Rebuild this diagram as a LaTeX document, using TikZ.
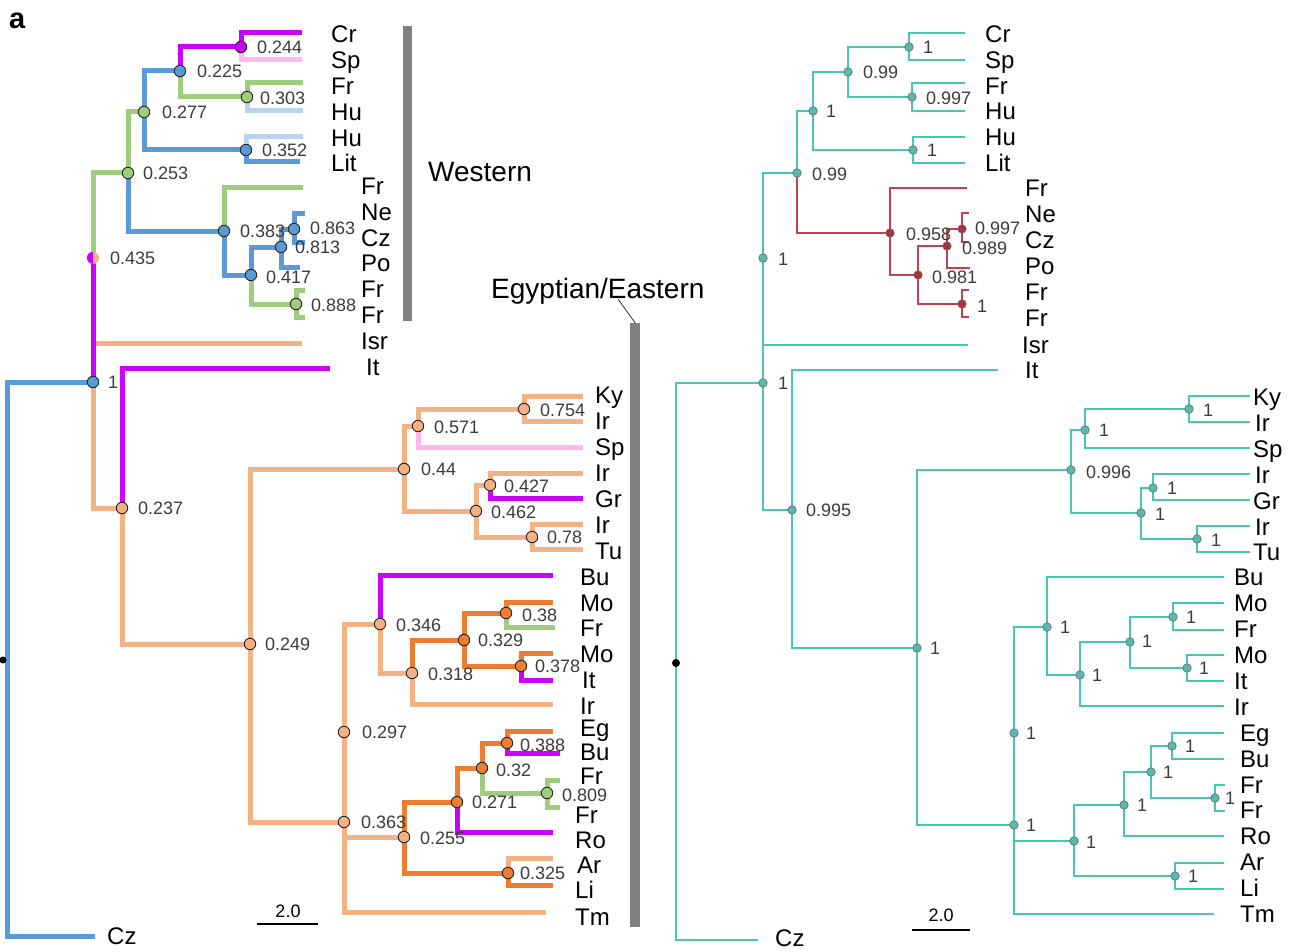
\documentclass[tikz,border=0pt]{standalone}
\usepackage{fontspec}
\setmainfont{Liberation Sans}
\usetikzlibrary{calc}
\definecolor{lblue}{RGB}{91,155,213}
\definecolor{lgreen}{RGB}{160,205,125}
\definecolor{lmag}{RGB}{204,0,255}
\definecolor{lpink}{RGB}{255,184,238}
\definecolor{lsky}{RGB}{185,212,238}
\definecolor{lpeach}{RGB}{244,177,131}
\definecolor{ldorange}{RGB}{237,125,49}
\definecolor{rteal}{RGB}{70,198,180}
\definecolor{rnodefill}{RGB}{90,185,175}
\definecolor{rred}{RGB}{195,65,75}
\definecolor{rrednode}{RGB}{170,50,60}
\definecolor{bargrey}{RGB}{128,128,128}
\definecolor{numgrey}{RGB}{60,60,60}
\newcommand\LeafFont{\fontsize{24}{24}\selectfont}
\newcommand\NumFont{\fontsize{18}{18}\selectfont}
\newcommand\TitleFont{\fontsize{28}{28}\selectfont}
\newcommand\PanelFont{\fontsize{29}{29}\selectfont\bfseries}
\begin{document}
\begin{tikzpicture}[x=1pt,y=-1pt,
  lbr/.style={line width=5pt},
  rbr/.style={line width=2.4pt, draw=rteal},
  rbred/.style={line width=2.4pt, draw=rred},
  lnode/.style={circle, draw=black!85, line width=0.9pt, minimum size=11.5pt, inner sep=0pt},
  rnode/.style={circle, draw=black!60, fill=rnodefill, line width=0.6pt, minimum size=8.5pt, inner sep=0pt},
  rrnode/.style={circle, draw=black!60, fill=rrednode, line width=0.6pt, minimum size=8.5pt, inner sep=0pt},
  leaflab/.style={anchor=base west, inner sep=0pt, font=\LeafFont, yshift=-8.6pt},
  numlab/.style={anchor=base west, inner sep=0pt, font=\NumFont, text=numgrey, yshift=-6.4pt},
  titlelab/.style={anchor=base west, inner sep=0pt, font=\TitleFont, yshift=-10pt},
  greybar/.style={fill=bargrey, inner sep=0pt, anchor=north west},
]
\useasboundingbox (0,0) rectangle (1295,952);
\fill[white] (0,0) rectangle (1295,952);

%================ LEFT TREE ================
\coordinate (LR) at (93,382);
\coordinate (L435) at (93,258);
\coordinate (L253) at (128,173);
\coordinate (L277) at (144,112);
\coordinate (L225) at (180,71);
\coordinate (L244) at (241,47);
\coordinate (L303) at (247,97);
\coordinate (L352) at (246,150);
\coordinate (L383) at (224,231);
\coordinate (L417) at (251,275);
\coordinate (L813) at (281,247);
\coordinate (L863) at (294,229);
\coordinate (L888) at (296,304);
\coordinate (lCr) at (302,33);
\coordinate (lSp) at (302,60);
\coordinate (lFrA) at (303,83);
\coordinate (lHuA) at (303,111);
\coordinate (lHuB) at (303,137);
\coordinate (lLit) at (300,162);
\coordinate (lFrB) at (303,188);
\coordinate (lNe) at (305,213);
\coordinate (lCzA) at (305,242);
\coordinate (lPo) at (300,267);
\coordinate (lFrC) at (305,290);
\coordinate (lFrD) at (305,317);
\coordinate (lIsr) at (302,343);
\coordinate (lItA) at (330,368);
\coordinate (Lbase) at (7,936);
\coordinate (lCzB) at (95,936);
\coordinate (L237) at (122,508);
\coordinate (L249) at (250,644);
\coordinate (L44) at (404,469);
\coordinate (L571) at (418,426);
\coordinate (L754) at (524,409);
\coordinate (L462) at (476,511);
\coordinate (L427) at (490,485);
\coordinate (L78) at (532,537);
\coordinate (lKy) at (583,396);
\coordinate (lIrA) at (583,421);
\coordinate (lSpB) at (583,447);
\coordinate (lIrB) at (583,473);
\coordinate (lGr) at (583,498);
\coordinate (lIrC) at (583,524);
\coordinate (lTu) at (583,549);
\coordinate (L297) at (344,732);
\coordinate (L363) at (344,822);
\coordinate (L346) at (380,624);
\coordinate (L318) at (412,673);
\coordinate (L329) at (464,640);
\coordinate (L38) at (506,613);
\coordinate (L378) at (521,666);
\coordinate (L255) at (404,837);
\coordinate (L271) at (457,802);
\coordinate (L32) at (482,768);
\coordinate (L388) at (507,743);
\coordinate (L809) at (547,793);
\coordinate (L325) at (508,873);
\coordinate (lBuA) at (553,575);
\coordinate (lMoA) at (553,602);
\coordinate (lFrE) at (555,627);
\coordinate (lMoB) at (553,653);
\coordinate (lItB) at (553,680);
\coordinate (lIrD) at (553,704);
\coordinate (lEg) at (553,731);
\coordinate (lBuB) at (560,753);
\coordinate (lFrF) at (560,780);
\coordinate (lFrG) at (560,807);
\coordinate (lRo) at (553,832);
\coordinate (lAr) at (553,858);
\coordinate (lLi) at (553,885);
\coordinate (lTm) at (546,912);

% branches
\draw[lbr, lblue] (LR) -| (Lbase) -- (lCzB);
\draw[lbr, lpeach] (L435) |- (lIsr);
\draw[lbr, lpeach] (LR) |- (L237);
\draw[lbr, lmag] (LR) -- (L435);
\draw[lbr, lgreen] (L435) |- (L253);
\draw[lbr, lgreen] (L253) |- (L277);
\draw[lbr, lblue] (L253) |- (L383);
\draw[lbr, lblue] (L277) |- (L225);
\draw[lbr, lblue] (L277) |- (L352);
\draw[lbr, lmag] (L225) |- (L244);
\draw[lbr, lgreen] (L225) |- (L303);
\draw[lbr, lmag] (L244) |- (lCr);
\draw[lbr, lpink] (L244) |- (lSp);
\draw[lbr, lgreen] (L303) |- (lFrA);
\draw[lbr, lsky] (L303) |- (lHuA);
\draw[lbr, lsky] (L352) |- (lHuB);
\draw[lbr, lblue] (L352) |- (lLit);
\draw[lbr, lgreen] (L383) |- (lFrB);
\draw[lbr, lblue] (L383) |- (L417);
\draw[lbr, lblue] (L417) |- (L813);
\draw[lbr, lgreen] (L417) |- (L888);
\draw[lbr, lblue] (L813) |- (L863);
\draw[lbr, lblue] (L813) |- (lPo);
\draw[lbr, lblue] (L863) |- (lNe);
\draw[lbr, lblue] (L863) |- (lCzA);
\draw[lbr, lgreen] (L888) |- (lFrC);
\draw[lbr, lgreen] (L888) |- (lFrD);
\draw[lbr, lmag] (L237) |- (lItA);
\draw[lbr, lpeach] (L237) |- (L249);
\draw[lbr, lpeach] (L249) |- (L44);
\draw[lbr, lpeach] (L249) |- (L363);
\draw[lbr, lpeach] (L44) |- (L571);
\draw[lbr, lpeach] (L44) |- (L462);
\draw[lbr, lpeach] (L571) |- (L754);
\draw[lbr, lpink] (L571) |- (lSpB);
\draw[lbr, lpeach] (L754) |- (lKy);
\draw[lbr, lpeach] (L754) |- (lIrA);
\draw[lbr, lpeach] (L462) |- (L427);
\draw[lbr, lpeach] (L462) |- (L78);
\draw[lbr, lpeach] (L427) |- (lIrB);
\draw[lbr, lmag] (L427) |- (lGr);
\draw[lbr, lpeach] (L78) |- (lIrC);
\draw[lbr, lpeach] (L78) |- (lTu);
\draw[lbr, lpeach] (L297) |- (L346);
\draw[lbr, lpeach] (L297) -- (L363);
\draw[lbr, lpeach] (L363) |- (L255);
\draw[lbr, lpeach] (L363) |- (lTm);
\draw[lbr, lmag] (L346) |- (lBuA);
\draw[lbr, lpeach] (L346) |- (L318);
\draw[lbr, ldorange] (L318) |- (L329);
\draw[lbr, lpeach] (L318) |- (lIrD);
\draw[lbr, ldorange] (L329) |- (L38);
\draw[lbr, ldorange] (L329) |- (L378);
\draw[lbr, ldorange] (L38) |- (lMoA);
\draw[lbr, lgreen] (L38) |- (lFrE);
\draw[lbr, ldorange] (L378) |- (lMoB);
\draw[lbr, lmag] (L378) |- (lItB);
\draw[lbr, ldorange] (L255) |- (L271);
\draw[lbr, ldorange] (L255) |- (L325);
\draw[lbr, ldorange] (L271) |- (L32);
\draw[lbr, lmag] (L271) |- (lRo);
\draw[lbr, ldorange] (L32) |- (L388);
\draw[lbr, lgreen] (L32) |- (L809);
\draw[lbr, ldorange] (L388) |- (lEg);
\draw[lbr, lmag] (L388) |- (lBuB);
\draw[lbr, lgreen] (L809) |- (lFrF);
\draw[lbr, lgreen] (L809) |- (lFrG);
\draw[lbr, lpeach] (L325) |- (lAr);
\draw[lbr, ldorange] (L325) |- (lLi);

% node markers
\node[lnode, fill=lmag] (cL244) at (L244) {};
\node[lnode, fill=lblue] (cL225) at (L225) {};
\node[lnode, fill=lgreen] (cL303) at (L303) {};
\node[lnode, fill=lgreen] (cL277) at (L277) {};
\node[lnode, fill=lblue] (cL352) at (L352) {};
\node[lnode, fill=lgreen] (cL253) at (L253) {};
\node[lnode, fill=lblue] (cL383) at (L383) {};
\node[lnode, fill=lblue] (cL417) at (L417) {};
\node[lnode, fill=lblue] (cL813) at (L813) {};
\node[lnode, fill=lblue] (cL863) at (L863) {};
\node[lnode, fill=lgreen] (cL888) at (L888) {};
\node[circle, fill=lpeach, minimum size=12pt, inner sep=0pt] (cL435) at (L435) {};
\fill[lmag] (cL435.north) arc[start angle=90, end angle=270, radius=6pt] -- cycle;
\node[lnode, fill=lblue] (cLR) at (LR) {};
\node[lnode, fill=lpeach] (cL237) at (L237) {};
\node[lnode, fill=lpeach] (cL249) at (L249) {};
\node[lnode, fill=lpeach] (cL44) at (L44) {};
\node[lnode, fill=lpeach] (cL571) at (L571) {};
\node[lnode, fill=lpeach] (cL754) at (L754) {};
\node[lnode, fill=lpeach] (cL462) at (L462) {};
\node[lnode, fill=lpeach] (cL427) at (L427) {};
\node[lnode, fill=lpeach] (cL78) at (L78) {};
\node[lnode, fill=lpeach] (cL297) at (L297) {};
\node[lnode, fill=lpeach] (cL363) at (L363) {};
\node[lnode, fill=lpeach] (cL346) at (L346) {};
\node[lnode, fill=lpeach] (cL318) at (L318) {};
\node[lnode, fill=ldorange] (cL329) at (L329) {};
\node[lnode, fill=ldorange] (cL38) at (L38) {};
\node[lnode, fill=ldorange] (cL378) at (L378) {};
\node[lnode, fill=lpeach] (cL255) at (L255) {};
\node[lnode, fill=ldorange] (cL271) at (L271) {};
\node[lnode, fill=ldorange] (cL32) at (L32) {};
\node[lnode, fill=ldorange] (cL388) at (L388) {};
\node[lnode, fill=lgreen] (cL809) at (L809) {};
\node[lnode, fill=ldorange] (cL325) at (L325) {};
\node[circle, fill=black, minimum size=7pt, inner sep=0pt] (dotL) at (3,660) {};

% node values
\foreach \n/\t/\x/\y in {
  tL244/0.244/257/47, tL225/0.225/197/71, tL303/0.303/260/98, tL277/0.277/162/112,
  tL352/0.352/262/150, tL253/0.253/143/173, tL383/0.383/240/231, tL863/0.863/310/228,
  tL813/0.813/295/247, tL417/0.417/266/277, tL888/0.888/311/305, tL435/0.435/110/258,
  tLR/1/108/382, tL237/0.237/138/508, tL249/0.249/265/644, tL44/0.44/421/469,
  tL571/0.571/434/427, tL754/0.754/540/410, tL462/0.462/491/512, tL427/0.427/504/486,
  tL78/0.78/547/537, tL346/0.346/396/625, tL318/0.318/428/674, tL329/0.329/478/640,
  tL38/0.38/522/615, tL378/0.378/535/666, tL297/0.297/362/732, tL363/0.363/361/822,
  tL255/0.255/420/838, tL271/0.271/472/802, tL32/0.32/496/770, tL388/0.388/520/745,
  tL809/0.809/562/795, tL325/0.325/520/873}
  \node[numlab] (\n) at (\x,\y) {\t};

% leaf labels
\foreach \n/\t/\x/\y in {
  nLCr/Cr/331/34, nLSp/Sp/331/60, nLFrA/Fr/331/86, nLHuA/Hu/331/112, nLHuB/Hu/331/138,
  nLLit/Lit/331/163, nLFrB/Fr/361/186, nLNe/Ne/361/212, nLCzA/Cz/361/238, nLPo/Po/361/263,
  nLFrC/Fr/361/289, nLFrD/Fr/361/315, nLIsr/Isr/361/341, nLItA/It/366/367,
  nLKy/Ky/595/395, nLIrA/Ir/595/421, nLSpB/Sp/595/447, nLIrB/Ir/595/473, nLGr/Gr/595/499,
  nLIrC/Ir/595/525, nLTu/Tu/595/551, nLBuA/Bu/580/577, nLMoA/Mo/580/603, nLFrE/Fr/580/628,
  nLMoB/Mo/580/654, nLItB/It/582/680, nLIrD/Ir/580/706, nLEg/Eg/580/728, nLBuB/Bu/580/752,
  nLFrF/Fr/580/776, nLFrG/Fr/575/815, nLRo/Ro/575/840, nLAr/Ar/577/865, nLLi/Li/575/890,
  nLTm/Tm/575/917, nLCzB/Cz/107/936}
  \node[leaflab] (\n) at (\x,\y) {\t};

% scale bar left
\coordinate (sbLa) at (257,924);
\coordinate (sbLb) at (318,924);
\draw[line width=2pt] (sbLa) -- (sbLb);
\node[font=\NumFont, inner sep=0pt] (sbLt) at (288,911) {2.0};

% group bars
\node[greybar, minimum width=9pt, minimum height=295pt] (wbar) at (403,26) {};
\node[titlelab] (wtitle) at (428,172) {Western};
\node[greybar, minimum width=10pt, minimum height=604pt] (ebar) at (630,323) {};
\node[titlelab] (etitle) at (491,288) {Egyptian/Eastern};
\coordinate (eglead) at (618,299);
\draw[line width=0.8pt, black!80] (eglead) -- (ebar.north);

\node[anchor=base west, inner sep=0pt, font=\PanelFont] (panela) at (9,29) {a};

%================ RIGHT TREE ================
\coordinate (RR) at (763,383);
\coordinate (R1a) at (763,258);
\coordinate (R099b) at (797,173);
\coordinate (R1b) at (813,111);
\coordinate (R099a) at (848,72);
\coordinate (R1d) at (909,47);
\coordinate (R997a) at (912,97);
\coordinate (R1c) at (913,150);
\coordinate (R958) at (890,233);
\coordinate (R981) at (918,275);
\coordinate (R989) at (947,246);
\coordinate (R997b) at (962,229);
\coordinate (R1e) at (962,304);
\coordinate (rCr) at (965,33);
\coordinate (rSp) at (965,60);
\coordinate (rFrA) at (965,83);
\coordinate (rHuA) at (965,111);
\coordinate (rHuB) at (965,137);
\coordinate (rLit) at (965,163);
\coordinate (rFrB) at (967,188);
\coordinate (rNe) at (969,213);
\coordinate (rCzA) at (969,242);
\coordinate (rPo) at (970,268);
\coordinate (rFrC) at (969,290);
\coordinate (rFrD) at (969,317);
\coordinate (rIsr) at (968,345);
\coordinate (rItA) at (998,370);
\coordinate (Rbase) at (676,940);
\coordinate (rCzB) at (758,940);
\coordinate (R995) at (792,510);
\coordinate (R1f) at (917,648);
\coordinate (R996) at (1071,470);
\coordinate (R1g) at (1085,430);
\coordinate (R1i) at (1189,409);
\coordinate (R1h) at (1141,513);
\coordinate (R1j) at (1153,488);
\coordinate (R1k) at (1197,539);
\coordinate (rKy) at (1250,396);
\coordinate (rIrA) at (1250,422);
\coordinate (rSpB) at (1250,448);
\coordinate (rIrB) at (1250,474);
\coordinate (rGr) at (1250,500);
\coordinate (rIrC) at (1250,526);
\coordinate (rTu) at (1250,552);
\coordinate (R1l) at (1014,733);
\coordinate (R1m) at (1014,825);
\coordinate (R1n) at (1047,627);
\coordinate (R1p) at (1080,675);
\coordinate (R1q) at (1130,642);
\coordinate (R1r) at (1173,617);
\coordinate (R1s) at (1187,668);
\coordinate (R1o) at (1074,841);
\coordinate (R1t) at (1124,805);
\coordinate (R1v) at (1151,772);
\coordinate (R1w) at (1172,746);
\coordinate (R1x) at (1215,798);
\coordinate (R1u) at (1175,876);
\coordinate (rBuA) at (1224,577);
\coordinate (rMoA) at (1224,603);
\coordinate (rFrE) at (1224,630);
\coordinate (rMoB) at (1224,655);
\coordinate (rItB) at (1224,681);
\coordinate (rIrD) at (1224,706);
\coordinate (rEg) at (1224,733);
\coordinate (rBuB) at (1224,759);
\coordinate (rFrF) at (1225,785);
\coordinate (rFrG) at (1225,811);
\coordinate (rRo) at (1224,836);
\coordinate (rAr) at (1224,863);
\coordinate (rLi) at (1224,889);
\coordinate (rTm) at (1214,914);

\draw[rbr] (RR) -| (Rbase) -- (rCzB);
\draw[rbr] (RR) -- (R1a);
\draw[rbr] (R1a) |- (rIsr);
\draw[rbr] (R1a) |- (R099b);
\draw[rbr] (R099b) |- (R1b);
\draw[rbred] (R099b) |- (R958);
\draw[rbr] (R1b) |- (R099a);
\draw[rbr] (R1b) |- (R1c);
\draw[rbr] (R099a) |- (R1d);
\draw[rbr] (R099a) |- (R997a);
\draw[rbr] (R1d) |- (rCr);
\draw[rbr] (R1d) |- (rSp);
\draw[rbr] (R997a) |- (rFrA);
\draw[rbr] (R997a) |- (rHuA);
\draw[rbr] (R1c) |- (rHuB);
\draw[rbr] (R1c) |- (rLit);
\draw[rbred] (R958) |- (rFrB);
\draw[rbred] (R958) |- (R981);
\draw[rbred] (R981) |- (R989);
\draw[rbred] (R981) |- (R1e);
\draw[rbred] (R989) |- (R997b);
\draw[rbred] (R989) |- (rPo);
\draw[rbred] (R997b) |- (rNe);
\draw[rbred] (R997b) |- (rCzA);
\draw[rbred] (R1e) |- (rFrC);
\draw[rbred] (R1e) |- (rFrD);
\draw[rbr] (RR) |- (R995);
\draw[rbr] (R995) |- (rItA);
\draw[rbr] (R995) |- (R1f);
\draw[rbr] (R1f) |- (R996);
\draw[rbr] (R1f) |- (R1m);
\draw[rbr] (R996) |- (R1g);
\draw[rbr] (R996) |- (R1h);
\draw[rbr] (R1g) |- (R1i);
\draw[rbr] (R1g) |- (rSpB);
\draw[rbr] (R1i) |- (rKy);
\draw[rbr] (R1i) |- (rIrA);
\draw[rbr] (R1h) |- (R1j);
\draw[rbr] (R1h) |- (R1k);
\draw[rbr] (R1j) |- (rIrB);
\draw[rbr] (R1j) |- (rGr);
\draw[rbr] (R1k) |- (rIrC);
\draw[rbr] (R1k) |- (rTu);
\draw[rbr] (R1l) |- (R1n);
\draw[rbr] (R1l) -- (R1m);
\draw[rbr] (R1m) |- (R1o);
\draw[rbr] (R1m) |- (rTm);
\draw[rbr] (R1n) |- (rBuA);
\draw[rbr] (R1n) |- (R1p);
\draw[rbr] (R1p) |- (R1q);
\draw[rbr] (R1p) |- (rIrD);
\draw[rbr] (R1q) |- (R1r);
\draw[rbr] (R1q) |- (R1s);
\draw[rbr] (R1r) |- (rMoA);
\draw[rbr] (R1r) |- (rFrE);
\draw[rbr] (R1s) |- (rMoB);
\draw[rbr] (R1s) |- (rItB);
\draw[rbr] (R1o) |- (R1t);
\draw[rbr] (R1o) |- (R1u);
\draw[rbr] (R1t) |- (R1v);
\draw[rbr] (R1t) |- (rRo);
\draw[rbr] (R1v) |- (R1w);
\draw[rbr] (R1v) |- (R1x);
\draw[rbr] (R1w) |- (rEg);
\draw[rbr] (R1w) |- (rBuB);
\draw[rbr] (R1x) |- (rFrF);
\draw[rbr] (R1x) |- (rFrG);
\draw[rbr] (R1u) |- (rAr);
\draw[rbr] (R1u) |- (rLi);

\foreach \c in {RR,R1a,R099b,R1b,R099a,R1d,R997a,R1c,R995,R1f,R996,R1g,R1i,R1h,R1j,R1k,
  R1l,R1m,R1n,R1p,R1q,R1r,R1s,R1o,R1t,R1v,R1w,R1x,R1u}
  \node[rnode] (c\c) at (\c) {};
\foreach \c in {R958,R981,R989,R997b,R1e}
  \node[rrnode] (c\c) at (\c) {};
\node[circle, fill=black, minimum size=8pt, inner sep=0pt] (dotR) at (676,663) {};

\foreach \n/\t/\x/\y in {
  tR1d/1/923/47, tR099a/0.99/863/72, tR997a/0.997/926/98, tR1b/1/826/111, tR1c/1/927/150,
  tR099b/0.99/812/174, tR1a/1/778/259, tR958/0.958/906/234, tR997b/0.997/975/228,
  tR989/0.989/962/248, tR981/0.981/932/277, tR1e/1/977/306, tRR/1/778/383,
  tR995/0.995/806/510, tR1f/1/930/648, tR996/0.996/1086/472, tR1g/1/1099/430,
  tR1i/1/1203/410, tR1h/1/1155/514, tR1j/1/1167/488, tR1k/1/1211/540,
  tR1n/1/1060/627, tR1p/1/1092/675, tR1q/1/1142/641, tR1r/1/1186/617, tR1s/1/1199/668,
  tR1l/1/1026/733, tR1m/1/1026/825, tR1o/1/1086/842, tR1t/1/1137/805, tR1v/1/1163/772,
  tR1w/1/1185/746, tR1x/1/1225/798, tR1u/1/1188/876}
  \node[numlab] (\n) at (\x,\y) {\t};

\foreach \n/\t/\x/\y in {
  nRCr/Cr/985/34, nRSp/Sp/985/60, nRFrA/Fr/985/86, nRHuA/Hu/985/111, nRHuB/Hu/985/137,
  nRLit/Lit/985/163, nRFrB/Fr/1025/188, nRNe/Ne/1025/214, nRCzA/Cz/1025/240,
  nRPo/Po/1025/266, nRFrC/Fr/1025/292, nRFrD/Fr/1025/318, nRIsr/Isr/1022/345,
  nRItA/It/1025/370, nRKy/Ky/1253/397, nRIrA/Ir/1255/423, nRSpB/Sp/1253/449,
  nRIrB/Ir/1255/475, nRGr/Gr/1253/501, nRIrC/Ir/1255/527, nRTu/Tu/1253/552,
  nRBuA/Bu/1234/577, nRMoA/Mo/1234/603, nRFrE/Fr/1234/629, nRMoB/Mo/1234/655,
  nRItB/It/1234/681, nRIrD/Ir/1234/707, nREg/Eg/1240/733, nRBuB/Bu/1240/759,
  nRFrF/Fr/1240/785, nRFrG/Fr/1240/810, nRRo/Ro/1240/836, nRAr/Ar/1240/862,
  nRLi/Li/1240/888, nRTm/Tm/1240/914, nRCzB/Cz/775/938}
  \node[leaflab] (\n) at (\x,\y) {\t};

\coordinate (sbRa) at (912,930);
\coordinate (sbRb) at (970,930);
\draw[line width=2pt] (sbRa) -- (sbRb);
\node[font=\NumFont, inner sep=0pt] (sbRt) at (941,915) {2.0};
\end{tikzpicture}
\end{document}
